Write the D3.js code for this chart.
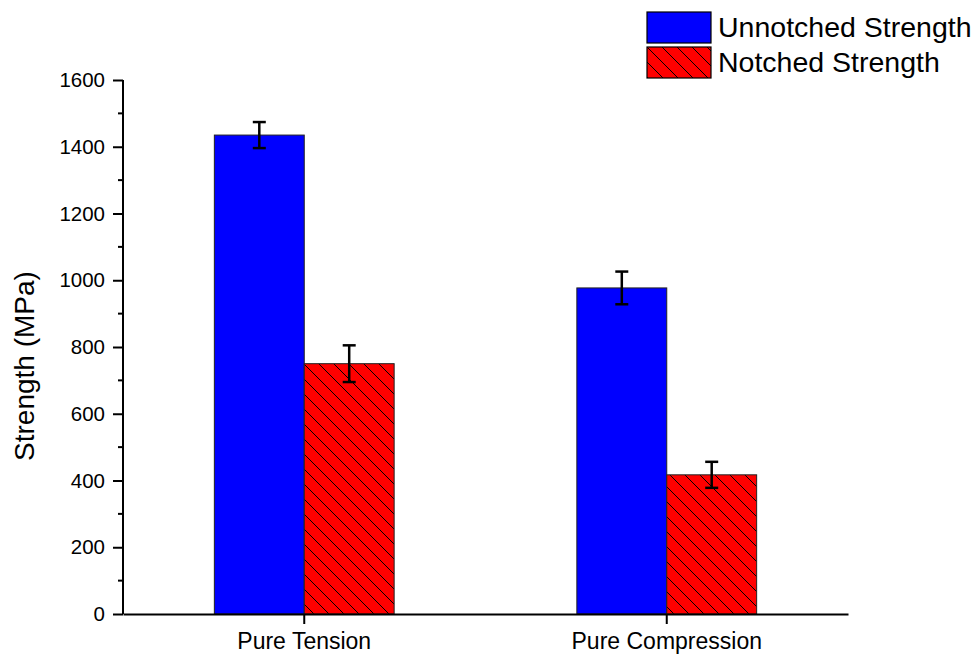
<!DOCTYPE html>
<html><head><meta charset="utf-8">
<script src="https://cdn.jsdelivr.net/npm/d3@7"></script>
<style>body{margin:0;background:#fff}svg{display:block}text{font-family:"Liberation Sans",Arial,sans-serif;fill:#000}</style>
</head><body><svg id="c" width="978" height="654"></svg>
<script>
const categories = ["Pure Tension", "Pure Compression"];
const seriesNames = ["Unnotched Strength", "Notched Strength"];
const unnotched = [1435, 977];
const unnotchedErr = [39, 49];
const notched = [750, 417];
const notchedErr = [55, 39];
const yTicks = [0, 200, 400, 600, 800, 1000, 1200, 1400, 1600];

const svg = d3.select("#c");
const defs = svg.append("defs");
const P = 15;
const pat = defs.append("pattern").attr("id","hatch").attr("patternUnits","userSpaceOnUse")
  .attr("width",P).attr("height",P);
pat.append("rect").attr("width",P).attr("height",P).attr("fill","#ff0000");
pat.append("path").attr("d",`M${-P/2},${P/2} L${P/2},${1.5*P} M0,0 L${P},${P} M${P/2},${-P/2} L${1.5*P},${P/2}`)
  .attr("stroke","#000").attr("stroke-width",1);

const L = 123, R = 848, T = 80, B = 614;
const x = d3.scaleBand().domain(categories).range([L, R]).padding(0);
const sub = d3.scaleBand().domain(seriesNames).range([x.bandwidth()*0.252, x.bandwidth()*0.748]);
const y = d3.scaleLinear().domain([0, 1600]).range([B, T]);

const data = categories.map((c,i)=>[
  {cat:c, s:seriesNames[0], v:unnotched[i], e:unnotchedErr[i], fill:"#0000ff"},
  {cat:c, s:seriesNames[1], v:notched[i], e:notchedErr[i], fill:"url(#hatch)"}
]).flat();

svg.append("g").selectAll("rect").data(data).join("rect")
  .attr("x", d=>x(d.cat)+sub(d.s)).attr("width", sub.bandwidth())
  .attr("y", d=>y(d.v)).attr("height", d=>B-y(d.v))
  .attr("fill", d=>d.fill).attr("stroke","#222").attr("stroke-width",1);

const eb = svg.append("g").attr("stroke","#000").attr("stroke-width",2.5);
data.forEach(d=>{
  const cx = x(d.cat)+sub(d.s)+sub.bandwidth()/2;
  eb.append("line").attr("x1",cx).attr("x2",cx).attr("y1",y(d.v+d.e)).attr("y2",y(d.v-d.e));
  eb.append("line").attr("x1",cx-6.5).attr("x2",cx+6.5).attr("y1",y(d.v+d.e)).attr("y2",y(d.v+d.e));
  eb.append("line").attr("x1",cx-6.5).attr("x2",cx+6.5).attr("y1",y(d.v-d.e)).attr("y2",y(d.v-d.e));
});

// y axis
const ya = svg.append("g").attr("transform",`translate(${L},0)`)
  .call(d3.axisLeft(y).tickValues(yTicks).tickSize(10).tickPadding(8).tickFormat(d3.format("d")));
ya.select(".domain").attr("stroke-width",2).attr("d",`M0,${T}H0V${B}`);
ya.selectAll(".tick line").attr("stroke-width",2);
ya.selectAll(".tick text").style("font-size","20.5px").attr("fill","#000");
const minor = d3.range(100,1600,200);
ya.selectAll(".minor").data(minor).join("line").attr("class","minor")
  .attr("x1",-5).attr("x2",0).attr("y1",d=>y(d)).attr("y2",d=>y(d)).attr("stroke","#000").attr("stroke-width",2);

// x axis
const xa = svg.append("g").attr("transform",`translate(0,${B})`)
  .call(d3.axisBottom(x).tickSize(10).tickPadding(9).tickSizeOuter(0));
xa.select(".domain").attr("stroke-width",2);
xa.selectAll(".tick line").attr("stroke-width",2);
xa.selectAll(".tick text").style("font-size","23px").attr("fill","#000");

svg.append("text").attr("transform","translate(34,366) rotate(-90)").attr("text-anchor","middle")
  .style("font-size","28px").text("Strength (MPa)");

// legend
const lg = svg.append("g");
const lfill = ["#0000ff","url(#hatch)"];
seriesNames.forEach((s,i)=>{
  lg.append("rect").attr("x",647).attr("y",12+i*35).attr("width",64).attr("height",31)
    .attr("fill",lfill[i]).attr("stroke","#000").attr("stroke-width",1.2);
  lg.append("text").attr("x",718).attr("y",37+i*35).style("font-size","28.5px").text(s);
});
</script></body></html>
